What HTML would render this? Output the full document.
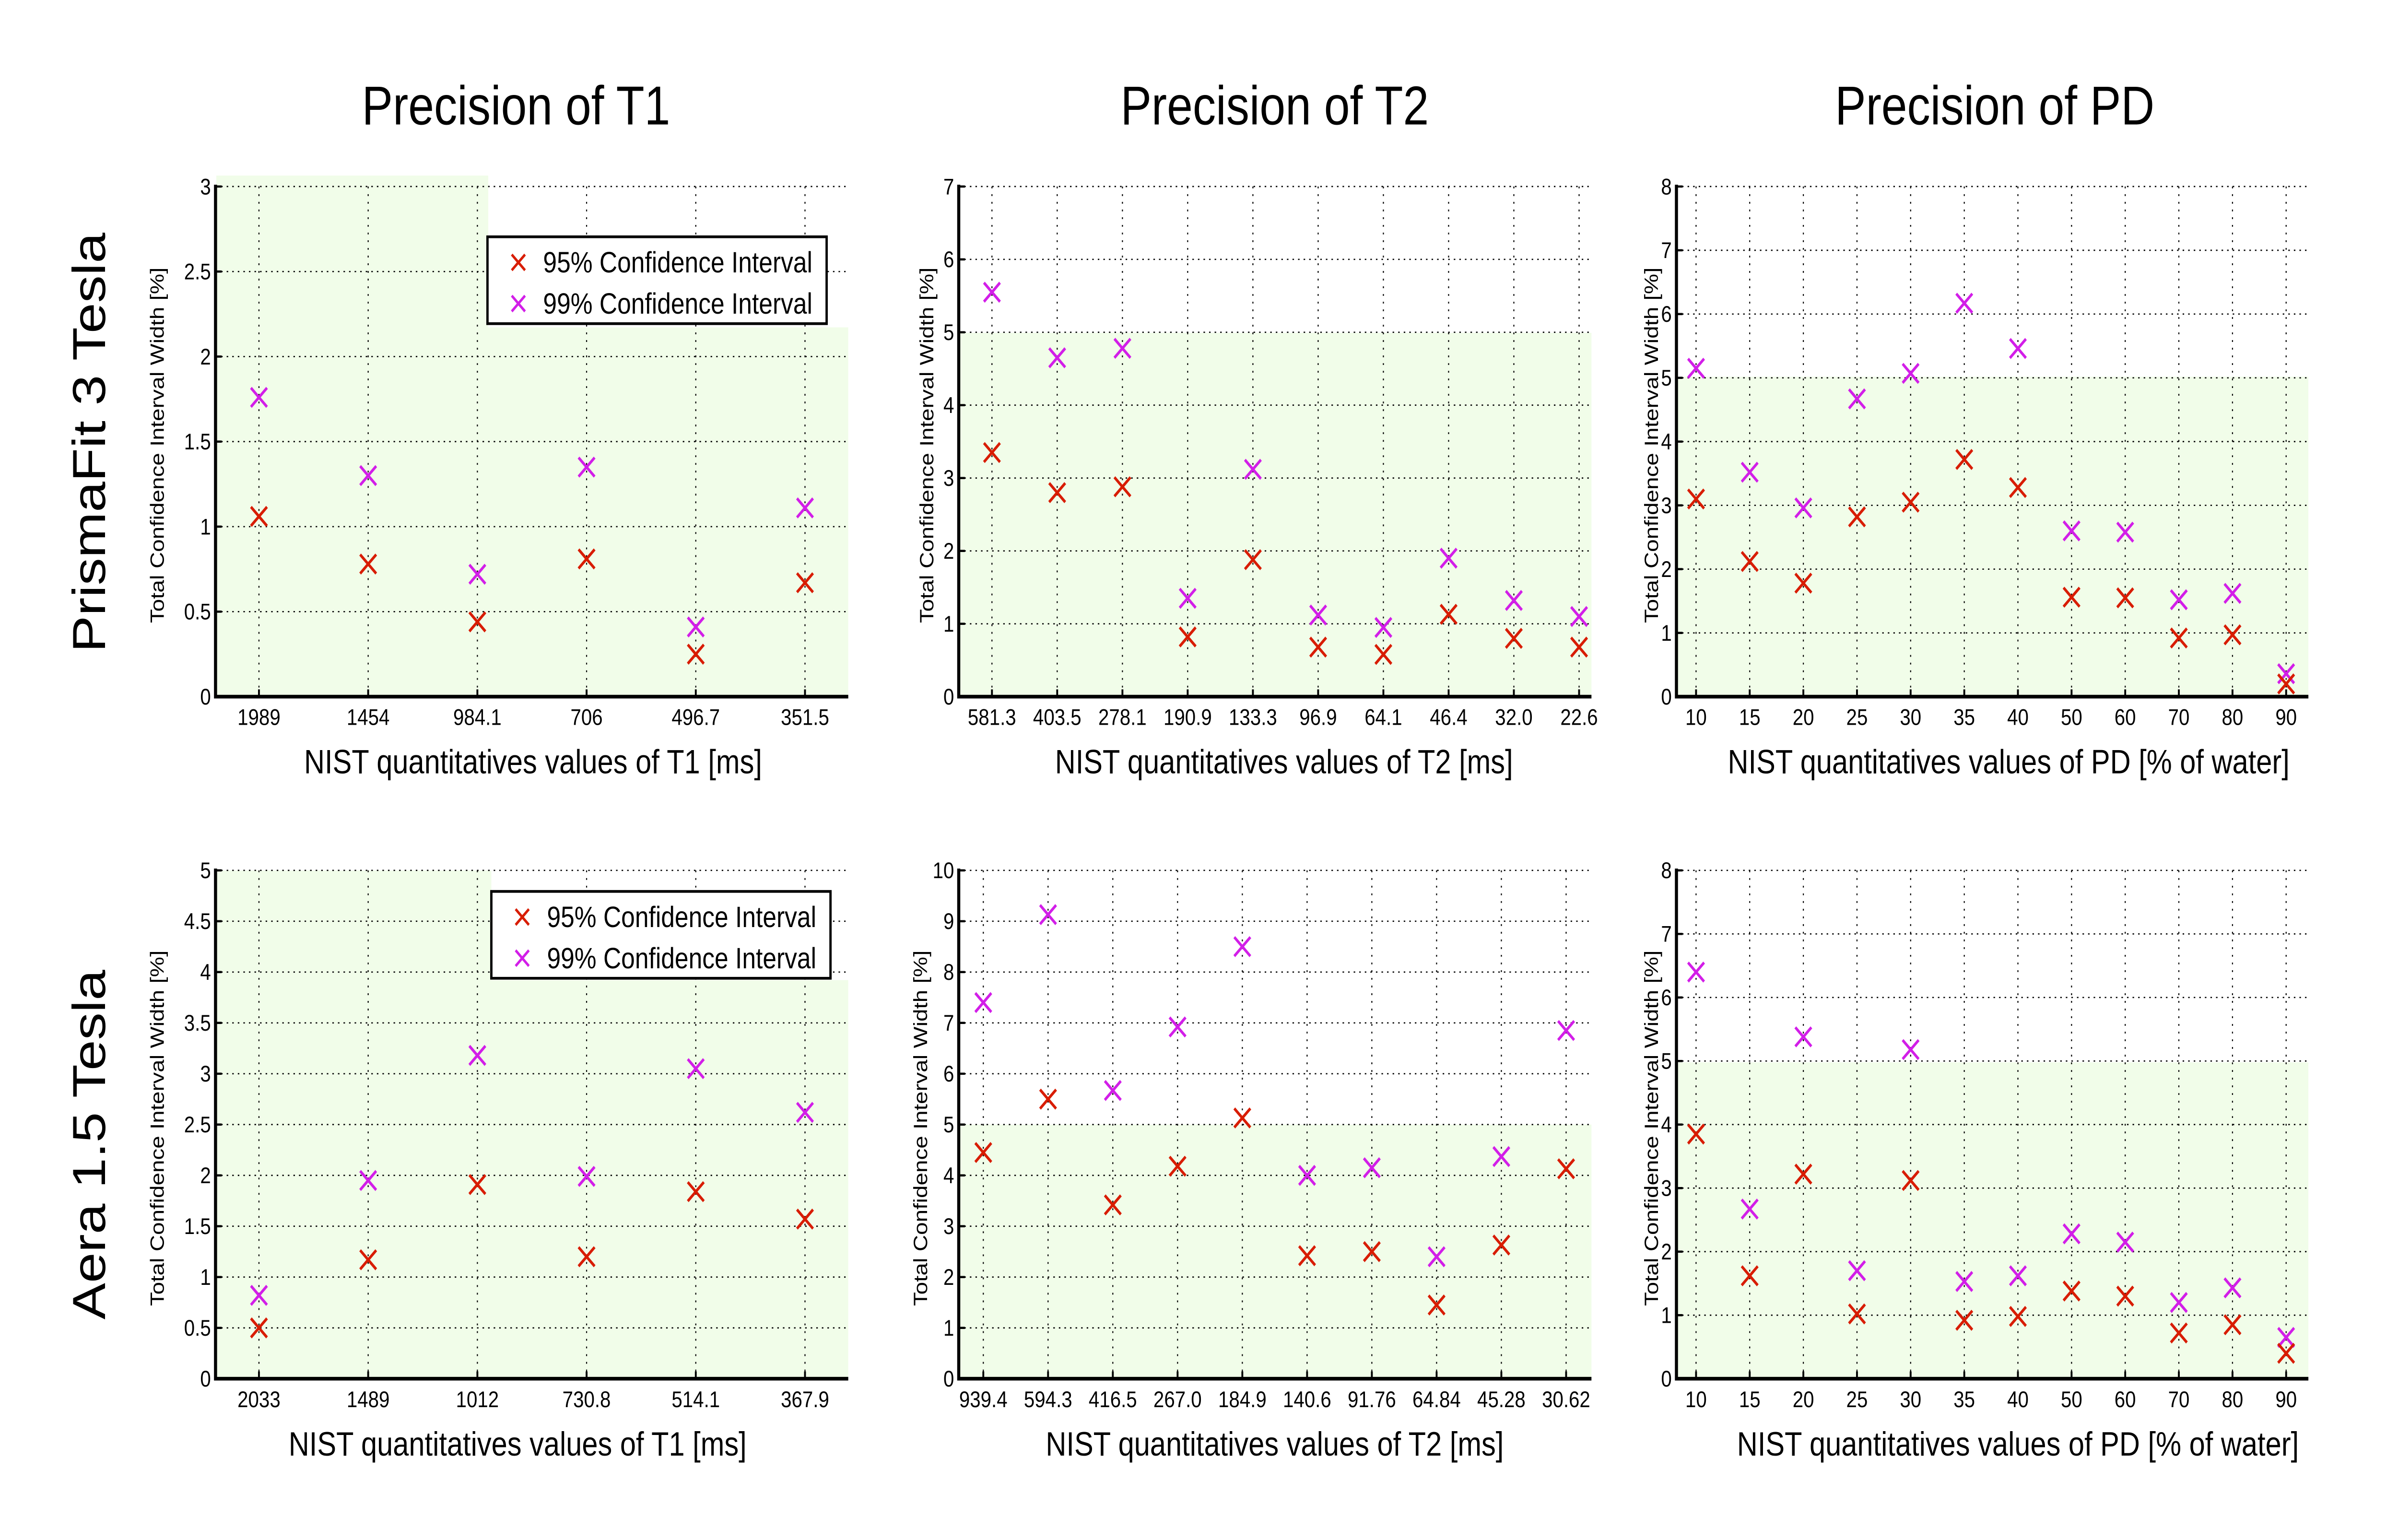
<!DOCTYPE html>
<html><head><meta charset="utf-8"><style>
html,body{margin:0;padding:0;background:#fff;width:100%;height:100%;overflow:hidden;}
svg{display:block;position:absolute;left:0;top:0;width:100vw;height:100vh;}
text{font-family:"Liberation Sans Narrow","Liberation Sans",sans-serif;fill:#000;}
.sans{font-family:"Liberation Sans",sans-serif;}
</style></head><body>
<svg id="fig" viewBox="0 0 1552 842.2" preserveAspectRatio="none" xmlns="http://www.w3.org/2000/svg">
<text class="sans" x="334" y="68" font-size="30" text-anchor="middle">Precision of T1</text>
<text class="sans" x="825" y="68" font-size="30" text-anchor="middle">Precision of T2</text>
<text class="sans" x="1291" y="68" font-size="30" text-anchor="middle">Precision of PD</text>
<text class="sans" transform="translate(68,242) rotate(-90)" font-size="30" text-anchor="middle">PrismaFit 3 Tesla</text>
<text class="sans" transform="translate(68,626) rotate(-90)" font-size="30" text-anchor="middle">Aera 1.5 Tesla</text>
<g id="plots"></g>
</svg>
<script>
// ---- data ----
const t1TopCats = ["1989","1454","984.1","706","496.7","351.5"];
const t1Top95 = [1.06,0.78,0.44,0.81,0.25,0.67];
const t1Top99 = [1.76,1.30,0.72,1.35,0.41,1.11];
const t1TopYTicks = ["0","0.5","1","1.5","2","2.5","3"];

const t2TopCats = ["581.3","403.5","278.1","190.9","133.3","96.9","64.1","46.4","32.0","22.6"];
const t2Top95 = [3.35,2.80,2.88,0.82,1.88,0.68,0.58,1.13,0.80,0.68];
const t2Top99 = [5.55,4.65,4.78,1.35,3.12,1.12,0.95,1.90,1.32,1.10];
const t2TopYTicks = ["0","1","2","3","4","5","6","7"];

const pdCats = ["10","15","20","25","30","35","40","50","60","70","80","90"];
const pdTop95 = [3.10,2.12,1.78,2.82,3.05,3.72,3.28,1.56,1.55,0.92,0.97,0.20];
const pdTop99 = [5.15,3.52,2.96,4.67,5.07,6.17,5.46,2.60,2.58,1.52,1.62,0.36];
const pdYTicks = ["0","1","2","3","4","5","6","7","8"];

const t1BotCats = ["2033","1489","1012","730.8","514.1","367.9"];
const t1Bot95 = [0.50,1.17,1.91,1.20,1.84,1.57];
const t1Bot99 = [0.82,1.95,3.18,1.99,3.05,2.62];
const t1BotYTicks = ["0","0.5","1","1.5","2","2.5","3","3.5","4","4.5","5"];

const t2BotCats = ["939.4","594.3","416.5","267.0","184.9","140.6","91.76","64.84","45.28","30.62"];
const t2Bot95 = [4.45,5.50,3.42,4.18,5.13,2.42,2.50,1.45,2.63,4.13];
const t2Bot99 = [7.40,9.13,5.67,6.92,8.50,4.00,4.15,2.40,4.37,6.85];
const t2BotYTicks = ["0","1","2","3","4","5","6","7","8","9","10"];

const pdBot95 = [3.85,1.62,3.22,1.02,3.12,0.92,0.98,1.38,1.30,0.72,0.85,0.40];
const pdBot99 = [6.40,2.67,5.38,1.70,5.18,1.53,1.62,2.28,2.15,1.20,1.43,0.65];

const legendLabels = ["95% Confidence Interval","99% Confidence Interval"];

const NS = "http://www.w3.org/2000/svg";
const root = document.getElementById('plots');
function mk(tag, attrs, parent){
  const e = document.createElementNS(NS, tag);
  for (const k in attrs) e.setAttribute(k, attrs[k]);
  (parent||root).appendChild(e);
  return e;
}
const RED = "#d81c00", MAG = "#d21ee8", GREEN = "#f1fde9";

function panel(cfg){
  const g = mk('g', {});
  
  
  const L=cfg.left, R=cfg.right, T=cfg.top, B=cfg.bottom;
  const ymax = parseFloat(cfg.yTicks[cfg.yTicks.length-1]);
  const n = cfg.cats.length;
  const y = v => B - (v/ymax)*(B-T);
  const x = i => cfg.x0 + i*(cfg.x1-cfg.x0)/(n-1);
  cfg.greens.forEach(r=>{
    const bg = mk('rect', {x:r[0], y:r[1], width:r[2]-r[0], height:B-r[1], fill:GREEN}, g);
    
    
  });
  cfg.yTicks.forEach(t=>{
    const yy = y(parseFloat(t));
    if (parseFloat(t)>0) {
      const gl = mk('line', {x1:L, x2:R, y1:yy, y2:yy, stroke:"#000", 'stroke-width':0.7, 'stroke-dasharray':"1 2.6"}, g);
      
      
    }
    mk('line', {x1:L, x2:L+4, y1:yy, y2:yy, stroke:"#000", 'stroke-width':1.2}, g);
    const tl = mk('text', {x:L-3, y:yy+4.3, 'font-size':12.5, 'text-anchor':'end'}, g);
    tl.textContent = t;
    
    
  });
  cfg.cats.forEach((c,i)=>{
    const xx = x(i);
    const gl = mk('line', {x1:xx, x2:xx, y1:T, y2:B, stroke:"#000", 'stroke-width':0.7, 'stroke-dasharray':"1 3.2"}, g);
    
    
    mk('line', {x1:xx, x2:xx, y1:B, y2:B-4, stroke:"#000", 'stroke-width':1.2}, g);
    const tl = mk('text', {x:xx, y:B+15.5, 'font-size':12.5, 'text-anchor':'middle'}, g);
    tl.textContent = c;
    
    
  });
  const ax = mk('path', {d:`M${L},${T-1} L${L},${B} L${R},${B}`, fill:'none', stroke:'#000', 'stroke-width':2}, g);
  
  
  function cross(cx, cy, col, nm){
    const s=5.2;
    const p = mk('path', {d:`M${cx-s},${cy-s} L${cx+s},${cy+s} M${cx-s},${cy+s} L${cx+s},${cy-s}`, stroke:col, 'stroke-width':1.6, fill:'none'}, g);
    
    
  }
  cfg.s99.forEach((v,i)=>cross(x(i), y(v), MAG, 'point-99'));
  cfg.s95.forEach((v,i)=>cross(x(i), y(v), RED, 'point-95'));
  const xl = mk('text', {x:cfg.xlx, y:B+42, 'font-size':18.5, 'text-anchor':'middle'}, g);
  xl.textContent = cfg.xlabel;
  
  
  const yl = mk('text', {class:'sans', transform:`translate(${cfg.ylx},${(T+B)/2+2}) rotate(-90)`, 'font-size':12.5, 'text-anchor':'middle'}, g);
  yl.textContent = "Total Confidence Interval Width [%]";
  
  
  if (cfg.legend){
    const [lx,ly,lx2,ly2] = cfg.legend;
    const lg = mk('g', {}, g);
    
    
    mk('rect', {x:lx, y:ly, width:lx2-lx, height:ly2-ly, fill:'#fff', stroke:'#000', 'stroke-width':1.5}, lg);
    [RED, MAG].forEach((col,k)=>{
      const ry = ly + 14 + k*22.5;
      const s=4.3, cx=lx+20;
      const m = mk('path', {d:`M${cx-s},${ry-s} L${cx+s},${ry+s} M${cx-s},${ry+s} L${cx+s},${ry-s}`, stroke:col, 'stroke-width':1.5}, lg);
      
      
      const t = mk('text', {x:lx+36, y:ry+5.5, 'font-size':16}, lg);
      t.textContent = legendLabels[k];
      
      
    });
  }
}

const TOP=[102,381], BOT=[476,754];
panel({name:'panel-t1-prismafit', left:139.5, right:549, top:TOP[0], bottom:TOP[1], x0:167.6, x1:521,
  cats:t1TopCats, s95:t1Top95, s99:t1Top99, yTicks:t1TopYTicks,
  greens:[[140,96,316],[316,179,549]], xlabel:"NIST quantitatives values of T1 [ms]", xlx:345, ylx:106,
  legend:[315.5,129.5,535,177]});
panel({name:'panel-t2-prismafit', left:620.5, right:1030, top:TOP[0], bottom:TOP[1], x0:642, x1:1022,
  cats:t2TopCats, s95:t2Top95, s99:t2Top99, yTicks:t2TopYTicks,
  greens:[[621,182,1030]], xlabel:"NIST quantitatives values of T2 [ms]", xlx:831, ylx:604});
panel({name:'panel-pd-prismafit', left:1085, right:1494, top:TOP[0], bottom:TOP[1], x0:1097.7, x1:1479.6,
  cats:pdCats, s95:pdTop95, s99:pdTop99, yTicks:pdYTicks,
  greens:[[1085,206,1494]], xlabel:"NIST quantitatives values of PD [% of water]", xlx:1300, ylx:1073});
panel({name:'panel-t1-aera', left:139.5, right:549, top:BOT[0], bottom:BOT[1], x0:167.6, x1:521,
  cats:t1BotCats, s95:t1Bot95, s99:t1Bot99, yTicks:t1BotYTicks,
  greens:[[140,476,318],[318,536,549]], xlabel:"NIST quantitatives values of T1 [ms]", xlx:335, ylx:106,
  legend:[318,487.5,537.5,535]});
panel({name:'panel-t2-aera', left:620.5, right:1030, top:BOT[0], bottom:BOT[1], x0:636.4, x1:1013.6,
  cats:t2BotCats, s95:t2Bot95, s99:t2Bot99, yTicks:t2BotYTicks,
  greens:[[621,615,1030]], xlabel:"NIST quantitatives values of T2 [ms]", xlx:825, ylx:600});
panel({name:'panel-pd-aera', left:1085, right:1494, top:BOT[0], bottom:BOT[1], x0:1097.7, x1:1479.6,
  cats:pdCats, s95:pdBot95, s99:pdBot99, yTicks:pdYTicks,
  greens:[[1085,581,1494]], xlabel:"NIST quantitatives values of PD [% of water]", xlx:1306, ylx:1073});
</script>
</body></html>
